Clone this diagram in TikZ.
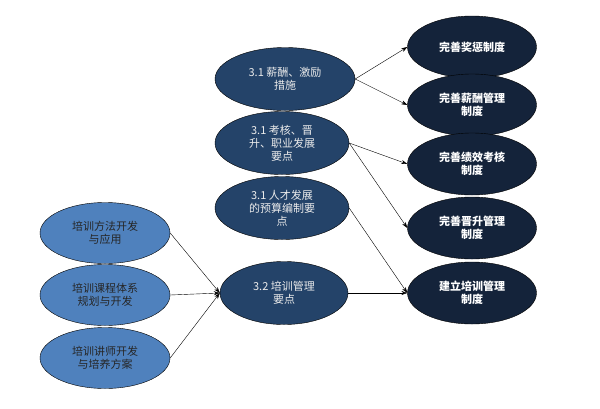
\documentclass[tikz,border=0pt]{standalone}
\usepackage{fontspec}
\setmainfont{Noto Sans CJK SC}
\usetikzlibrary{shapes.geometric,arrows.meta}
\definecolor{lightblue}{HTML}{4F81BD}
\definecolor{midblue}{HTML}{244369}
\definecolor{darkblue}{HTML}{14233A}
\tikzset{
    base/.style = {draw=black, ellipse, inner sep=0pt, align=center,
        font=\fontsize{11}{13}\selectfont},
    method/.style = {base, fill=lightblue, text=black!85, minimum width=130pt, minimum height=61pt},
    point/.style = {base, fill=midblue, text=white!85!gray, minimum width=134pt, minimum height=63pt},
    system/.style = {base, fill=darkblue, text=white, minimum width=129pt, minimum height=62pt, font=\fontsize{11}{13}\selectfont\bfseries},
}
\begin{document}
\begin{tikzpicture}[x=1pt, y=-1pt, >={Stealth[length=6pt,width=4pt]}]
	\useasboundingbox (0,0) rectangle (600,408);
	
	% left column
	\node (methodDev) [method] at (105,233) {培训方法开发\\与应用};
	\node (courseDev) [method] at (105,295) {培训课程体系\\规划与开发};
	\node (trainerDev) [method] at (105,358) {培训讲师开发\\与培养方案};
	
	% middle column
	\node (salary) [point, minimum width=140pt] at (285,79) {3.1 薪酬、激励\\措施};
	\node (appraisal) [point] at (282,143) {3.1 考核、晋\\升、职业发展\\要点};
	\node (budget) [point] at (282,208) {3.1 人才发展\\的预算编制要\\点};
	\node (trainMgmt) [point, minimum width=128pt] at (284,293) {3.2 培训管理\\要点};
	
	% right column
	\node (rewardSys) [system] at (472,47) {完善奖惩制度};
	\node (salarySys) [system] at (472,105) {完善薪酬管理\\制度};
	\node (perfSys) [system] at (472,164) {完善绩效考核\\制度};
	\node (promoSys) [system] at (472,228) {完善晋升管理\\制度};
	\node (trainSys) [system] at (472,293) {建立培训管理\\制度};
	
	% edges
	\draw[->] (methodDev.east) -- (trainMgmt.west);
	\draw[->] (courseDev.east) -- (trainMgmt.west);
	\draw[->] (trainerDev.east) -- (trainMgmt.west);
	\draw[->] (salary.east) -- (rewardSys.west);
	\draw[->] (salary.east) -- (salarySys.west);
	\draw[->] (appraisal.east) -- (perfSys.west);
	\draw[->] (appraisal.east) -- (promoSys.west);
	\draw[->] (budget.east) -- (trainSys.west);
	\draw[->] (trainMgmt) -- (trainSys);
	
\end{tikzpicture}
\end{document}
